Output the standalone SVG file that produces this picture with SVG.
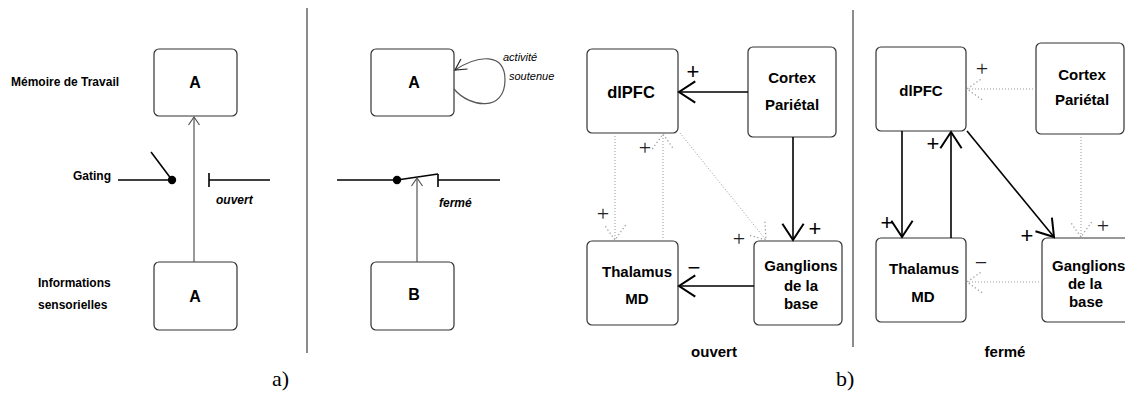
<svg xmlns="http://www.w3.org/2000/svg" width="1125" height="394" viewBox="0 0 1125 394">
<style>
.box{fill:#fff;stroke:#333;stroke-width:1.2}
.lbl{font-family:"Liberation Sans",Arial,sans-serif;font-weight:bold;fill:#000}
.ital{font-family:"Liberation Sans",Arial,sans-serif;font-style:italic;fill:#000}
.sa{stroke:#555;stroke-width:1.2;fill:none}
.sk{stroke:#000;stroke-width:1.6;fill:none}
.dt{stroke:#999;stroke-width:1;stroke-dasharray:1 2;fill:none}
.sep{stroke:#666;stroke-width:1.5}
.ph{font-family:"Liberation Sans",Arial,sans-serif;font-size:22px;fill:#000;text-anchor:middle}
.pl{font-family:"Liberation Serif","Times New Roman",serif;font-size:22px;fill:#222;text-anchor:middle}
.cap{font-family:"Liberation Serif","Times New Roman",serif;font-size:22px;fill:#000}
</style>
<defs>
<marker id="ma" markerUnits="userSpaceOnUse" markerWidth="20" markerHeight="20" viewBox="-12 -10 14 20" refX="0" refY="0" orient="auto"><path d="M-8,-5.5 L0,0 L-8,5.5" fill="none" stroke="#555" stroke-width="1.2"/></marker>
<marker id="ml" markerUnits="userSpaceOnUse" markerWidth="20" markerHeight="20" viewBox="-14 -10 16 20" refX="0" refY="0" orient="auto"><path d="M-11,-6 L0,0 L-11,6" fill="none" stroke="#222" stroke-width="1.2"/></marker>
<marker id="mk" markerUnits="userSpaceOnUse" markerWidth="30" markerHeight="30" viewBox="-16 -12 18 24" refX="0" refY="0" orient="auto"><path d="M-13,-8.5 L0,0 L-13,8.5" fill="none" stroke="#000" stroke-width="1.6"/></marker>
<marker id="md" markerUnits="userSpaceOnUse" markerWidth="30" markerHeight="30" viewBox="-16 -12 18 24" refX="0" refY="0" orient="auto"><path d="M-12,-8.5 L0,0 L-12,8.5" fill="none" stroke="#999" stroke-width="1" stroke-dasharray="1 2"/></marker>
</defs>

<!-- separators -->
<line class="sep" x1="307" y1="8" x2="307" y2="353"/>
<line class="sep" x1="853" y1="10" x2="853" y2="347"/>

<!-- a) left labels -->
<text class="lbl" x="11" y="86" font-size="12">Mémoire de Travail</text>
<text class="lbl" x="73" y="180" font-size="12">Gating</text>
<text class="lbl" x="38" y="287" font-size="12">Informations</text>
<text class="lbl" x="38" y="309" font-size="12">sensorielles</text>
<text class="ital" x="216" y="204" font-size="12" font-weight="bold">ouvert</text>

<g id="a1-top"><rect class="box" x="154" y="49" width="83" height="67" rx="5"/><text class="lbl" x="195" y="88" font-size="16" text-anchor="middle">A</text></g>
<g id="a1-bottom"><rect class="box" x="154" y="262" width="83" height="68" rx="5"/><text class="lbl" x="195" y="302" font-size="16" text-anchor="middle">A</text></g>

<!-- a) right -->
<g id="a2-top"><rect class="box" x="371" y="49" width="83" height="67" rx="5"/><text class="lbl" x="414" y="88" font-size="16" text-anchor="middle">A</text></g>
<g id="a2-bottom"><rect class="box" x="371" y="262" width="83" height="68" rx="5"/><text class="lbl" x="414" y="300" font-size="16" text-anchor="middle">B</text></g>
<text class="ital" x="503" y="61" font-size="11">activité</text>
<text class="ital" x="509" y="80" font-size="11">soutenue</text>
<text class="ital" x="439" y="207" font-size="12" font-weight="bold">fermé</text>

<g id="a-connectors">
<line class="sa" x1="194" y1="262" x2="194" y2="117" marker-end="url(#ma)"/>
<line class="sk" x1="118" y1="180" x2="172" y2="180" stroke-width="1.3"/>
<line class="sk" x1="151" y1="152" x2="172" y2="180" stroke-width="1.3"/>
<circle cx="172" cy="180" r="4.2" fill="#000"/>
<line class="sk" x1="209" y1="173" x2="209" y2="187" stroke-width="1.3"/>
<line class="sk" x1="209" y1="180" x2="270" y2="180" stroke-width="1.3"/>

<path class="sa" stroke="#222" d="M454,89 C470,108 505,112 505,80 C505,52 478,55 455,70" marker-end="url(#ml)"/>
<line class="sk" x1="337" y1="180" x2="397" y2="180" stroke-width="1.3"/>
<circle cx="397" cy="180" r="4.2" fill="#000"/>
<line class="sk" x1="397" y1="180" x2="438" y2="174" stroke-width="1.3"/>
<line class="sk" x1="438" y1="174" x2="438" y2="187" stroke-width="1.3"/>
<line class="sk" x1="438" y1="180" x2="500" y2="180" stroke-width="1.3"/>
<line class="sa" x1="417" y1="262" x2="417" y2="178" marker-end="url(#ma)"/>
</g>

<text class="cap" x="272" y="386">a)</text>
<text class="cap" x="836" y="386">b)</text>

<!-- b) ouvert -->
<g id="b1-dlpfc"><rect class="box" x="587" y="49" width="91" height="84" rx="5"/><text class="lbl" x="631" y="98" font-size="16.5" text-anchor="middle">dlPFC</text></g>
<g id="b1-cortex"><rect class="box" x="748" y="47" width="88" height="90" rx="5"/><text class="lbl" x="792" y="83" font-size="15" text-anchor="middle">Cortex</text><text class="lbl" x="792" y="110" font-size="15" text-anchor="middle">Pariétal</text></g>
<g id="b1-thalamus"><rect class="box" x="587" y="241" width="91" height="84" rx="5"/><text class="lbl" x="637" y="277" font-size="15" text-anchor="middle">Thalamus</text><text class="lbl" x="637" y="304" font-size="15" text-anchor="middle">MD</text></g>
<g id="b1-ganglions"><rect class="box" x="754" y="241" width="88" height="84" rx="5"/><text class="lbl" x="801" y="271" font-size="15" text-anchor="middle">Ganglions</text><text class="lbl" x="801" y="291" font-size="15" text-anchor="middle">de la</text><text class="lbl" x="801" y="309" font-size="15" text-anchor="middle">base</text></g>
<text class="lbl" x="714" y="357" font-size="15" text-anchor="middle">ouvert</text>

<g id="b1-connectors">
<line class="sk" x1="748" y1="92" x2="679" y2="92" marker-end="url(#mk)"/>
<line class="sk" x1="793" y1="137" x2="793" y2="240" marker-end="url(#mk)"/>
<line class="sk" x1="754" y1="286" x2="679" y2="286" marker-end="url(#mk)"/>
<line class="dt" x1="615" y1="133" x2="615" y2="240" marker-end="url(#md)"/>
<line class="dt" x1="663" y1="241" x2="663" y2="134" marker-end="url(#md)"/>
<line class="dt" x1="680" y1="133" x2="766" y2="240" marker-end="url(#md)"/>
</g>
<text class="ph" x="693" y="79">+</text>
<text class="ph" x="815" y="236">+</text>
<text class="ph" x="694" y="275">−</text>
<text class="pl" x="645" y="155">+</text>
<text class="pl" x="603" y="221">+</text>
<text class="pl" x="739" y="246">+</text>

<!-- b) fermé -->
<g id="b2-dlpfc"><rect class="box" x="876" y="47" width="90" height="84" rx="5"/><text class="lbl" x="921" y="96" font-size="15" text-anchor="middle">dlPFC</text></g>
<g id="b2-cortex"><rect class="box" x="1036" y="43" width="88" height="91" rx="5"/><text class="lbl" x="1082" y="80" font-size="15" text-anchor="middle">Cortex</text><text class="lbl" x="1082" y="105" font-size="15" text-anchor="middle">Pariétal</text></g>
<g id="b2-thalamus"><rect class="box" x="876" y="238" width="90" height="84" rx="5"/><text class="lbl" x="924" y="274" font-size="15" text-anchor="middle">Thalamus</text><text class="lbl" x="923" y="302" font-size="15" text-anchor="middle">MD</text></g>
<g id="b2-ganglions"><rect class="box" x="1042" y="238" width="95" height="84" rx="5"/><text class="lbl" x="1052" y="271" font-size="15">Ganglions</text><text class="lbl" x="1085" y="289" font-size="15" text-anchor="middle">de la</text><text class="lbl" x="1086" y="307" font-size="15" text-anchor="middle">base</text></g>
<text class="lbl" x="1005" y="357" font-size="15" text-anchor="middle">fermé</text>

<g id="b2-connectors">
<line class="dt" x1="1036" y1="89" x2="967" y2="89" marker-end="url(#md)"/>
<line class="dt" x1="1081" y1="134" x2="1081" y2="237" marker-end="url(#md)"/>
<line class="sk" x1="902" y1="131" x2="902" y2="237" marker-end="url(#mk)"/>
<line class="sk" x1="951" y1="238" x2="951" y2="132" marker-end="url(#mk)"/>
<line class="sk" x1="967" y1="131" x2="1054" y2="237" marker-end="url(#mk)"/>
<line class="dt" x1="1042" y1="282" x2="967" y2="282" marker-end="url(#md)"/>
</g>
<text class="ph" x="933" y="151">+</text>
<text class="ph" x="887" y="230">+</text>
<text class="ph" x="1027" y="243">+</text>
<text class="pl" x="982" y="76">+</text>
<text class="pl" x="1103" y="233">+</text>
<text class="pl" x="981" y="270">−</text>
</svg>
